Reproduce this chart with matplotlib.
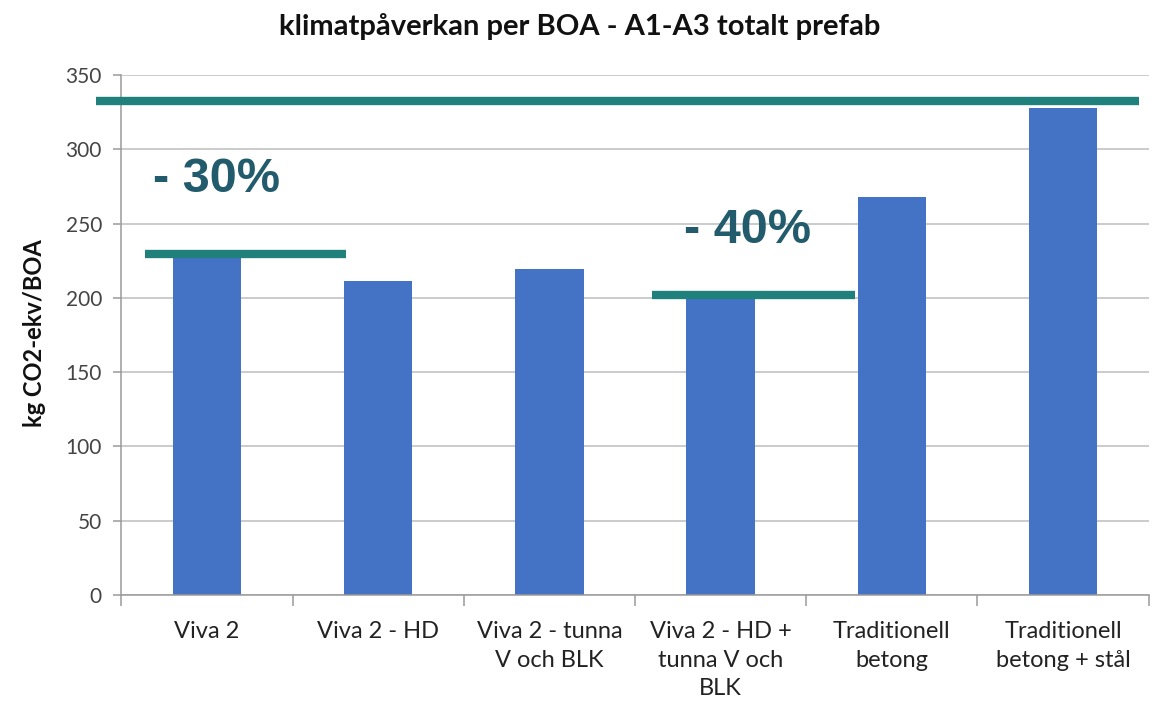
import matplotlib
matplotlib.use("Agg")
import matplotlib.pyplot as plt
from matplotlib.ticker import FixedLocator

categories = ["Viva 2", "Viva 2 - HD", "Viva 2 - tunna\nV och BLK",
              "Viva 2 - HD +\ntunna V och\nBLK", "Traditionell\nbetong",
              "Traditionell\nbetong + stål"]
values = [228, 211.5, 219.5, 200, 268, 327.5]
yticks = [0, 50, 100, 150, 200, 250, 300, 350]
title = "klimatpåverkan per BOA - A1-A3 totalt prefab"
ylabel = "kg CO2-ekv/BOA"

# reference lines: (x start, x end, level) in category units
ref_top = (-0.65, 5.444, 332.6)
ref_30 = (-0.362, 0.810, 229.5)
ref_40 = (2.601, 3.785, 202)
annotations = [("- 30%", -0.315, 271.5), ("- 40%", 2.786, 236.7)]

bar_color = "#4472C4"
teal = "#1F807C"
text_teal = "#215B6C"

fig = plt.figure(figsize=(11.58, 7.07), dpi=100)
ax = fig.add_axes([0.1048, 0.1584, 0.8871, 0.7355])

x = list(range(len(categories)))
ax.bar(x, values, width=0.40, color=bar_color, zorder=2)

ax.set_xlim(-0.5, len(categories) - 0.5)
ax.set_ylim(0, 350)
ax.set_yticks(yticks)
ax.yaxis.grid(True, color="#BDBDBD", linewidth=1.1, zorder=0)
ax.set_axisbelow(True)

for s in ["top", "right"]:
    ax.spines[s].set_visible(False)
ax.spines["left"].set_color("#9A9A9A")
ax.spines["bottom"].set_color("#9A9A9A")
ax.spines["left"].set_linewidth(1.1)
ax.spines["bottom"].set_linewidth(1.1)

ax.set_xticks(x)
ax.set_xticklabels(categories, fontsize=17, family="Lato", color="#222222",
                   linespacing=1.42, va="top")
ax.tick_params(axis="x", which="major", length=0, pad=19)
ax.xaxis.set_minor_locator(FixedLocator([i - 0.5 for i in range(len(categories) + 1)]))
ax.tick_params(axis="x", which="minor", length=8, width=1.1, color="#9A9A9A")
ax.tick_params(axis="y", length=6, width=1.1, color="#9A9A9A", pad=8,
               labelsize=15, labelcolor="#444444")
for lab in ax.get_yticklabels():
    lab.set_family("Lato")

for (x0, x1, lvl) in [ref_top, ref_30, ref_40]:
    ax.plot([x0, x1], [lvl, lvl], color=teal, linewidth=6, solid_capstyle="butt",
            clip_on=False, zorder=3)

for txt, tx, ty in annotations:
    ax.text(tx, ty, txt, fontsize=35, fontweight="bold", family="Liberation Sans",
            color=text_teal, ha="left", va="baseline", zorder=4)

fig.text(0.5005, 0.962, title, ha="center", va="center", fontsize=21,
         fontweight="bold", family="Lato", color="#111111")
fig.text(0.030, 0.529, ylabel, rotation=90, ha="center", va="center",
         fontsize=17, fontweight="bold", family="Lato", color="#111111")

fig.savefig("out.png", dpi=100)
